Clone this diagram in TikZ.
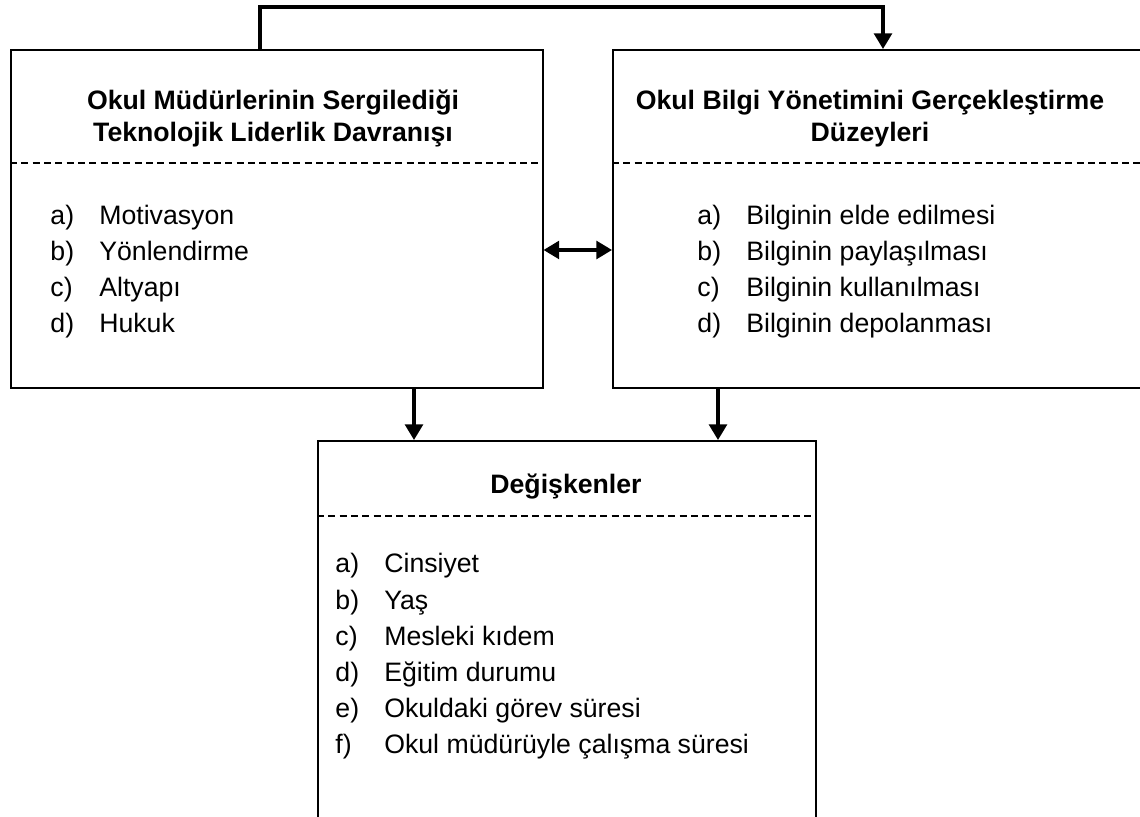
\documentclass[tikz,border=0pt]{standalone}
\usepackage{fontspec}
\setmainfont{Liberation Sans}
\usetikzlibrary{arrows.meta}
\newcommand{\px}{0.45pt}
\newcommand{\madde}[2]{\makebox[22pt][l]{#1}#2}
\tikzstyle{kutu} = [rectangle, draw=black, line width=0.7pt, anchor=north west, inner sep=0pt]
\tikzstyle{baslik} = [font=\fontsize{12}{14.4}\selectfont\bfseries, align=center, anchor=base, inner sep=0pt]
\tikzstyle{liste} = [font=\fontsize{12}{16.3}\selectfont, align=left, anchor=base west, inner sep=0pt]
\tikzstyle{kesik} = [line width=0.5pt, dash pattern=on 3.2pt off 1.9pt]
\tikzstyle{ok} = [line width=1.4pt, -{Triangle[length=7pt,width=8pt]}]
\tikzstyle{ciftok} = [line width=1.4pt, {Triangle[length=7pt,width=8pt]}-{Triangle[length=7pt,width=8pt]}]
\begin{document}
\begin{tikzpicture}[x=\px, y=-\px]
\clip (0,0) rectangle (1140,817);
\node[kutu, minimum width=532*\px, minimum height=338*\px] (sol) at (10,49) {};
\node[kutu, minimum width=566*\px, minimum height=338*\px] (sag) at (612,49) {};
\node[kutu, minimum width=498*\px, minimum height=420*\px] (alt) at (317,440) {};
\draw[kesik] ([yshift=-114*\px]sol.north west) -- ([yshift=-114*\px]sol.north east);
\draw[kesik] ([yshift=-114*\px]sag.north west) -- ([yshift=-114*\px]sag.north east);
\draw[kesik] ([yshift=-76*\px]alt.north west) -- ([yshift=-76*\px]alt.north east);
\node[baslik] (b1) at (273,142) {Okul Müdürlerinin Sergilediği\\Teknolojik Liderlik Davranışı};
\node[baslik] (b2) at (870,142) {Okul Bilgi Yönetimini Gerçekleştirme\\Düzeyleri};
\node[baslik] (b3) at (566,494) {Değişkenler};
\node[liste] (l1) at (50,333) {\madde{a)}{Motivasyon}\\\madde{b)}{Yönlendirme}\\\madde{c)}{Altyapı}\\\madde{d)}{Hukuk}};
\node[liste] (l2) at (697,333) {\madde{a)}{Bilginin elde edilmesi}\\\madde{b)}{Bilginin paylaşılması}\\\madde{c)}{Bilginin kullanılması}\\\madde{d)}{Bilginin depolanması}};
\node[liste] (l3) at (335,754) {\madde{a)}{Cinsiyet}\\\madde{b)}{Yaş}\\\madde{c)}{Mesleki kıdem}\\\madde{d)}{Eğitim durumu}\\\madde{e)}{Okuldaki görev süresi}\\\madde{f)}{Okul müdürüyle çalışma süresi}};
\coordinate (k1) at (260,7);
\coordinate (k2) at (883,7);
\coordinate (a1) at (414,0);
\coordinate (a2) at (718,0);
\coordinate (orta) at (577,250);
\draw[ok] (sol.north -| k1) -- (k1) -- (k2) -- (sag.north -| k2);
\draw[ciftok] (sol.east |- orta) -- (sag.west |- orta);
\draw[ok] (sol.south -| a1) -- (alt.north -| a1);
\draw[ok] (sag.south -| a2) -- (alt.north -| a2);
\end{tikzpicture}
\end{document}
